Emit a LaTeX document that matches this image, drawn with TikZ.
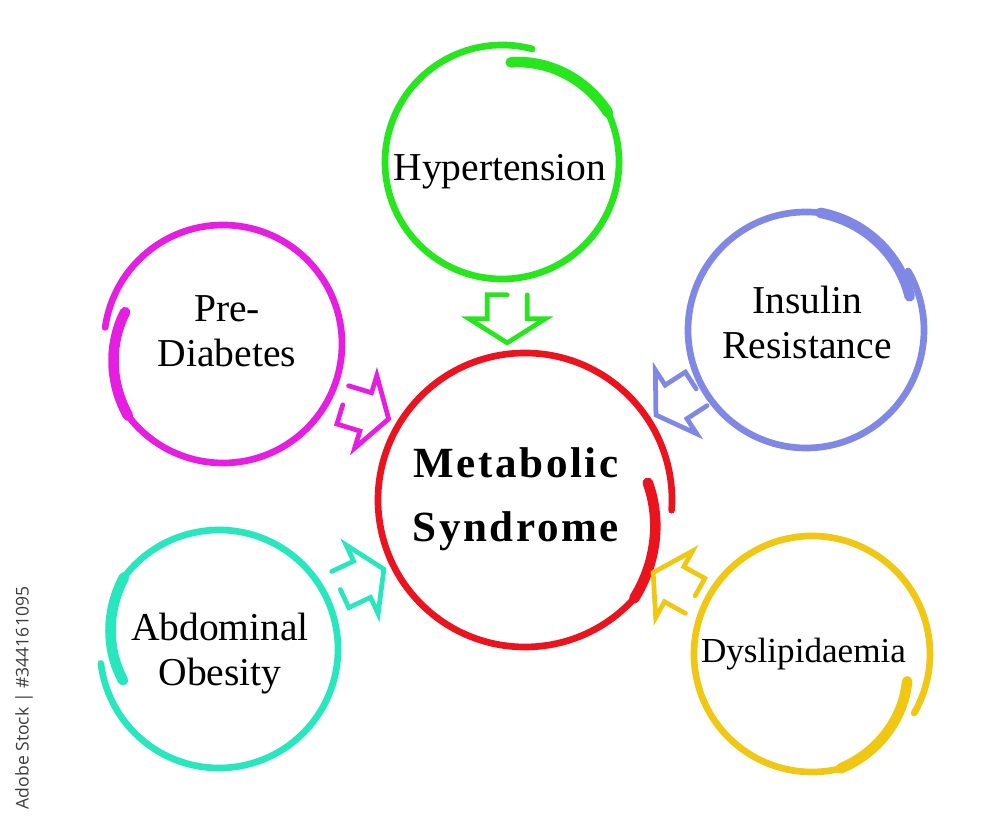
\documentclass[tikz,border=0pt]{standalone}
\usepackage{fontspec}
\setmainfont{Liberation Serif}
\newfontfamily\metafont[LetterSpace=6]{Liberation Serif}
\newfontfamily\stockfont{Open Sans}
\usetikzlibrary{calc}

\definecolor{hypgreen}{RGB}{40,230,30}
\definecolor{premag}{RGB}{230,30,225}
\definecolor{insblue}{RGB}{128,136,230}
\definecolor{metared}{RGB}{235,20,30}
\definecolor{abdturq}{RGB}{40,230,190}
\definecolor{dysyellow}{RGB}{240,200,20}
\definecolor{stockgrey}{RGB}{60,60,60}

% hand drawn ring: centre, colour, radius, inner radius, start angle, sweep of thick start, whole sweep
\newcommand{\handring}[7]{%
  \begin{scope}[shift={#1}]
    \draw[ringstart, #2] plot[domain=0:1, samples=25, smooth, variable=\t] ({#5+#6*\t}:{#4+(#3-#4)*\t});
    \draw[ring, #2] ({#5+#6}:#3) arc[start angle={#5+#6}, end angle={#5+#7}, radius=#3];
  \end{scope}}

\begin{document}
\begin{tikzpicture}[topic/.style={align=center, inner sep=0pt, font=\fontsize{22.5}{25.5}\selectfont}, main/.style={align=center, inner sep=0pt, font=\metafont\bfseries\fontsize{24.5}{36.3}\selectfont}, ring/.style={line width=3.8pt, line cap=round}, ringstart/.style={line width=6pt, line cap=round}, arr/.style={line width=2.7pt, line cap=round}, barrow/.pic={\draw[arr] (-0.48,0.4) -- (0,0.4) -- (0,0.76) -- (0.48,0) -- (0,-0.76) -- (0,-0.4) -- (-0.48,-0.4) -- (-0.48,0);}]
    \useasboundingbox (0,0) rectangle (20,16.46);
    % nodes
    \node[main] (meta) at (10.32,6.48) {Metabolic\\Syndrome};
    \node[topic] (hyp) at (10.00,13.03) {Hypertension};
    \node[topic] (pre) at (4.54,9.83) {Pre-\\Diabetes};
    \node[topic] (ins) at (16.14,10.01) {Insulin\\Resistance};
    \node[topic] (abd) at (4.40,3.39) {Abdominal\\Obesity};
    \node[topic, font=\fontsize{20}{24}\selectfont] (dys) at (16.07,3.38) {Dyslipidaemia};
    \node[rotate=90, text=stockgrey, font=\stockfont\fontsize{10}{12}\selectfont] (stock) at (0.48,2.5) {Adobe Stock | \#344161095};
    % rings
    \handring{(10.04,13.22)}{hypgreen}{2.34}{2.00}{85}{-60}{-370}
    \handring{(4.46,9.58)}{premag}{2.38}{2.06}{162}{55}{370}
    \handring{(16.12,9.86)}{insblue}{2.36}{2.18}{18}{65}{372}
    \handring{(10.50,6.46)}{metared}{2.94}{2.48}{8}{-50}{-372}
    \handring{(4.38,3.48)}{abdturq}{2.38}{2.02}{198}{-55}{-371}
    \handring{(16.24,3.38)}{dysyellow}{2.36}{1.98}{-16}{-60}{-374}
    % arrows
    \pic[rotate=270, hypgreen] at ($(hyp)!0.45!(meta)$) {barrow};
    \pic[rotate=-17, premag] at ($(pre)!0.48!(meta)$) {barrow};
    \pic[rotate=213, insblue] at ($(ins)!0.45!(meta)$) {barrow};
    \pic[rotate=25, abdturq] at ($(abd)!0.48!(meta)$) {barrow};
    \pic[rotate=151, dysyellow] at ($(dys)!0.45!(meta)$) {barrow};
\end{tikzpicture}
\end{document}
